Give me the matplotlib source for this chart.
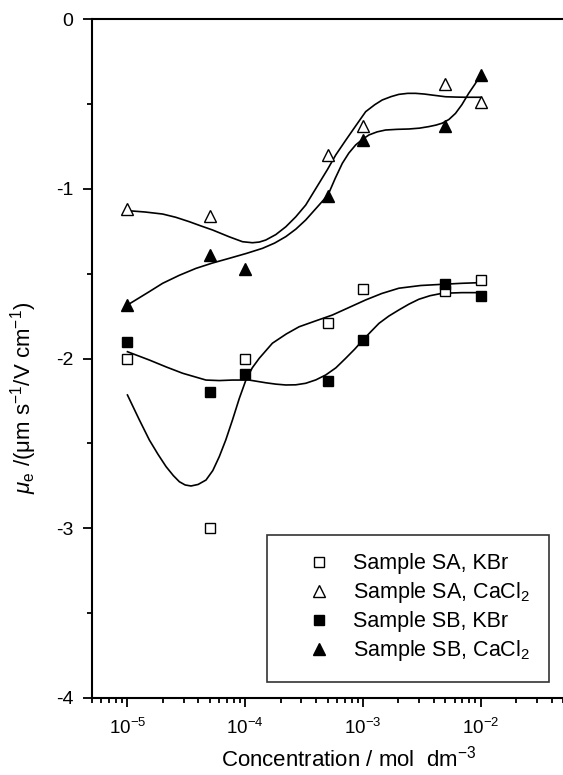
import numpy as np
import matplotlib
matplotlib.use('Agg')
import matplotlib.pyplot as plt
from matplotlib.ticker import LogLocator, LogFormatterSciNotation, MultipleLocator, NullFormatter

plt.rcParams['font.family'] = ['Liberation Sans', 'DejaVu Sans']
plt.rcParams['mathtext.fontset'] = 'custom'
plt.rcParams['mathtext.rm'] = 'Liberation Sans'
plt.rcParams['mathtext.it'] = 'Liberation Sans:italic'
plt.rcParams['mathtext.bf'] = 'Liberation Sans:bold'
plt.rcParams['axes.unicode_minus'] = False

# measured points (concentration in mol dm-3, mobility in um s-1 / V cm-1)
conc_sa_kbr = [1e-5, 5e-5, 1e-4, 5e-4, 1e-3, 5e-3, 1e-2]
mu_sa_kbr = [-2.00, -3.00, -2.00, -1.79, -1.59, -1.60, -1.54]

conc_sa_cacl2 = [1e-5, 5e-5, 5e-4, 1e-3, 5e-3, 1e-2]
mu_sa_cacl2 = [-1.12, -1.16, -0.80, -0.63, -0.38, -0.49]

conc_sb_kbr = [1e-5, 5e-5, 1e-4, 5e-4, 1e-3, 5e-3, 1e-2]
mu_sb_kbr = [-1.90, -2.20, -2.09, -2.13, -1.89, -1.56, -1.63]

conc_sb_cacl2 = [1e-5, 5e-5, 1e-4, 5e-4, 1e-3, 5e-3, 1e-2]
mu_sb_cacl2 = [-1.685, -1.39, -1.47, -1.04, -0.71, -0.63, -0.33]

# smooth fit curves (log10 of concentration, mobility)
fit_sa_kbr_logc = [-5.0, -4.90, -4.814, -4.74, -4.672, -4.61, -4.559, -4.51, -4.460, -4.40,
                   -4.333, -4.275, -4.220, -4.165, -4.108, -4.05, -3.994, -3.94,
                   -3.881, -3.769, -3.65, -3.542, -3.40, -3.260, -3.12, -2.977, -2.84,
                   -2.695, -2.51, -2.328, -2.16, -2.0]
fit_sa_kbr_mu = [-2.215, -2.36, -2.480, -2.565, -2.637, -2.690, -2.726, -2.745, -2.751, -2.742,
                 -2.716, -2.660, -2.578, -2.480, -2.362, -2.235, -2.127, -2.055,
                 -1.999, -1.910, -1.855, -1.813, -1.778, -1.744, -1.700, -1.655, -1.617,
                 -1.586, -1.570, -1.563, -1.557, -1.553]

fit_sa_cacl2_logc = [-5.0, -4.85, -4.701, -4.59, -4.475, -4.38, -4.277, -4.136, -4.023,
                     -3.938, -3.88, -3.825, -3.74, -3.655, -3.57, -3.486, -3.373, -3.30,
                     -3.231, -3.15, -3.076, -2.977, -2.90, -2.836, -2.76, -2.695, -2.62,
                     -2.553, -2.48, -2.413, -2.299, -2.21, -2.130, -2.0]
fit_sa_cacl2_mu = [-1.129, -1.137, -1.149, -1.168, -1.194, -1.218, -1.243, -1.283, -1.312,
                   -1.318, -1.314, -1.302, -1.270, -1.224, -1.165, -1.096, -0.968, -0.885,
                   -0.801, -0.718, -0.644, -0.546, -0.505, -0.477, -0.457, -0.444, -0.438,
                   -0.438, -0.442, -0.448, -0.458, -0.460, -0.461, -0.461]

fit_sb_kbr_logc = [-5.0, -4.814, -4.67, -4.531, -4.333, -4.22, -4.108, -3.966, -3.825,
                   -3.74, -3.655, -3.57, -3.486, -3.40, -3.316, -3.23, -3.147, -3.07,
                   -3.0, -2.93, -2.864, -2.78, -2.695, -2.61, -2.525, -2.43, -2.328,
                   -2.16, -2.0]
fit_sb_kbr_mu = [-1.960, -2.009, -2.050, -2.087, -2.127, -2.130, -2.127, -2.127, -2.143,
                 -2.151, -2.156, -2.155, -2.146, -2.126, -2.097, -2.055, -1.999, -1.945,
                 -1.891, -1.840, -1.793, -1.750, -1.714, -1.680, -1.651, -1.630, -1.616,
                 -1.612, -1.612]

fit_sb_cacl2_logc = [-5.0, -4.814, -4.701, -4.56, -4.418, -4.28, -4.136, -3.99, -3.853,
                     -3.75, -3.655, -3.57, -3.486, -3.373, -3.297, -3.235, -3.175, -3.12,
                     -3.062, -3.00, -2.949, -2.88, -2.808, -2.71, -2.610, -2.52, -2.441,
                     -2.38, -2.328, -2.27, -2.214, -2.16, -2.102, -2.05, -2.0]
fit_sb_cacl2_mu = [-1.685, -1.606, -1.557, -1.510, -1.469, -1.438, -1.410, -1.381, -1.351,
                   -1.320, -1.282, -1.238, -1.184, -1.096, -1.037, -0.938, -0.850, -0.790,
                   -0.742, -0.707, -0.683, -0.665, -0.654, -0.650, -0.648, -0.643, -0.634,
                   -0.625, -0.614, -0.592, -0.556, -0.505, -0.438, -0.385, -0.330]

fig = plt.figure(figsize=(5.63, 7.75), dpi=100)
ax = fig.add_axes([92 / 563, 77 / 775, 1 - 92 / 563, 679 / 775])

for logc, mu in [(fit_sa_kbr_logc, fit_sa_kbr_mu), (fit_sa_cacl2_logc, fit_sa_cacl2_mu),
                 (fit_sb_kbr_logc, fit_sb_kbr_mu), (fit_sb_cacl2_logc, fit_sb_cacl2_mu)]:
    ax.plot(10 ** np.array(logc), mu, color='black', lw=1.2, zorder=2)

ax.plot(conc_sa_kbr, mu_sa_kbr, ls='none', marker='s', ms=7.5, mfc='white', mec='black',
        mew=1.0, label='Sample SA, KBr', zorder=3)
ax.plot(conc_sa_cacl2, mu_sa_cacl2, ls='none', marker='^', ms=8.5, mfc='white', mec='black',
        mew=1.0, label='Sample SA, CaCl$_2$', zorder=3)
ax.plot(conc_sb_kbr, mu_sb_kbr, ls='none', marker='s', ms=7.5, mfc='black', mec='black',
        mew=1.0, label='Sample SB, KBr', zorder=3)
ax.plot(conc_sb_cacl2, mu_sb_cacl2, ls='none', marker='^', ms=8.5, mfc='black', mec='black',
        mew=1.0, label='Sample SB, CaCl$_2$', zorder=3)

ax.set_xscale('log')
ax.set_xlim(5e-6, 5e-2)
ax.set_ylim(-4, 0)

ax.xaxis.set_major_locator(LogLocator(base=10, numticks=10))
ax.xaxis.set_minor_locator(LogLocator(base=10, subs=np.arange(2, 10), numticks=20))
ax.xaxis.set_major_formatter(LogFormatterSciNotation())
ax.xaxis.set_minor_formatter(NullFormatter())
ax.yaxis.set_major_locator(MultipleLocator(1))
ax.yaxis.set_minor_locator(MultipleLocator(0.5))

ax.tick_params(which='both', direction='out', top=False, right=False, width=1.3)
ax.tick_params(which='major', length=6.5)
ax.tick_params(axis='x', which='major', pad=8, labelsize=13.5)
ax.tick_params(axis='y', which='major', pad=7, labelsize=14)
ax.tick_params(which='minor', length=3.5)

for side in ['left', 'bottom', 'top']:
    ax.spines[side].set_linewidth(1.5)
ax.spines['right'].set_visible(False)

ax.set_xlabel('Concentration / mol  dm$^{-3}$', fontsize=16, va='baseline')
ax.xaxis.set_label_coords(0.546, -0.1016)
ax.set_ylabel(r'$\mu_\mathrm{e}$ /(μm s$^{-1}$/V cm$^{-1}$)', fontsize=16, va='center')
ax.yaxis.set_label_coords(-0.145, 0.442)

leg = ax.legend(loc='upper left', bbox_to_anchor=(0.372, 0.240), fontsize=15.5,
                frameon=True, fancybox=False, edgecolor='black', borderpad=0.85,
                handlelength=3.1, handletextpad=0.05, labelspacing=0.28, borderaxespad=0)
leg.get_frame().set_linewidth(1.2)

fig.savefig('out.png', dpi=100)
